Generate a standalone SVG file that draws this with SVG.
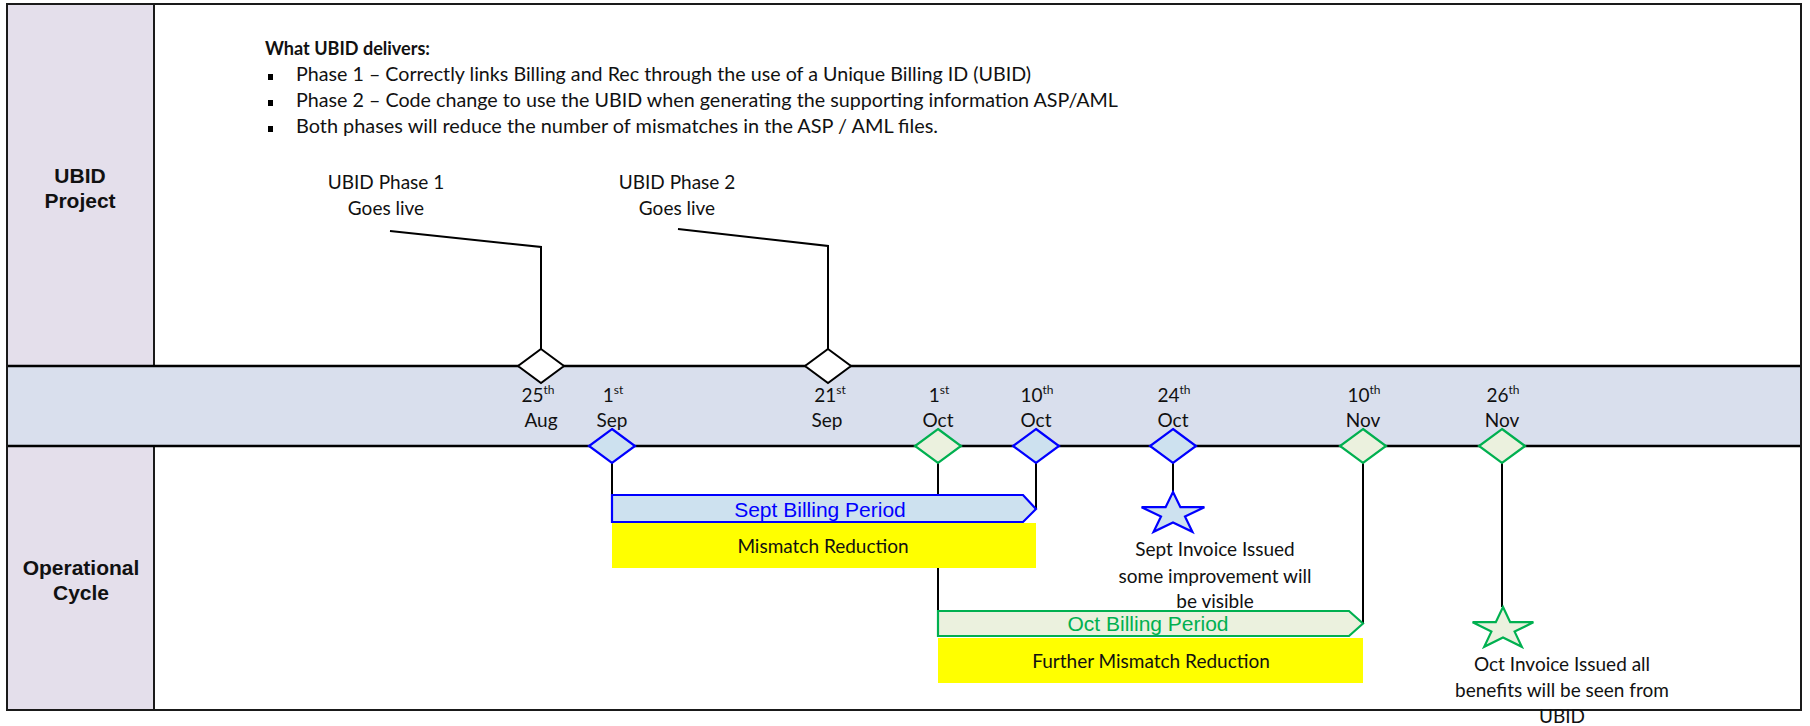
<svg xmlns="http://www.w3.org/2000/svg" width="1810" height="726" viewBox="0 0 1810 726">
<style>
.cal{font-family:Lato,"Open Sans","Liberation Sans",sans-serif;font-size:19px;fill:#111}
.hdr{font-family:"Liberation Sans",Arial,sans-serif;font-size:21px;font-weight:bold;fill:#111}
.ar{font-family:"Liberation Sans",Arial,sans-serif;font-size:21px}
.sup{font-size:12px}
.ln{stroke:#000;stroke-width:2;fill:none}
.dw{fill:#fff;stroke:#000;stroke-width:2}
.db{fill:#cde1ef;stroke:#0000ff;stroke-width:2.2}
.dg{fill:#ebf1de;stroke:#00b050;stroke-width:2.2}
.mid{text-anchor:middle}
</style>
<rect x="0" y="0" width="1810" height="726" fill="#fff"/>
<g id="frame">
<rect x="7" y="4" width="1794" height="706" fill="#fff" stroke="#1a1a1a" stroke-width="2"/>
<rect x="7" y="366" width="1794" height="80" fill="#d9dfed"/>
<rect x="7" y="4" width="147" height="362" fill="#e4dfeb" stroke="#1a1a1a" stroke-width="2"/>
<rect x="7" y="446" width="147" height="264" fill="#e4dfeb" stroke="#1a1a1a" stroke-width="2"/>
<line x1="7" y1="366" x2="1801" y2="366" stroke="#000" stroke-width="2.5"/>
<line x1="7" y1="446" x2="1801" y2="446" stroke="#000" stroke-width="2.5"/>
<rect x="7" y="4" width="1794" height="706" fill="none" stroke="#1a1a1a" stroke-width="2"/>
</g>
<g id="lane-ubid">
<text class="hdr mid" x="80" y="183">UBID</text>
<text class="hdr mid" x="80" y="208">Project</text>
</g>
<g id="lane-ops">
<text class="hdr mid" x="81" y="575">Operational</text>
<text class="hdr mid" x="81" y="600">Cycle</text>
</g>
<g id="delivers">
<text class="cal" x="265" y="55" font-weight="bold" textLength="165" lengthAdjust="spacingAndGlyphs">What UBID delivers:</text>
<rect x="268" y="74" width="5" height="6" fill="#000"/>
<rect x="268" y="100" width="5" height="6" fill="#000"/>
<rect x="268" y="126" width="5" height="6" fill="#000"/>
<text class="cal" x="296" y="81" textLength="735" lengthAdjust="spacingAndGlyphs">Phase 1 – Correctly links Billing and Rec through the use of a Unique Billing ID (UBID)</text>
<text class="cal" x="296" y="107" textLength="822" lengthAdjust="spacingAndGlyphs">Phase 2 – Code change to use the UBID when generating the supporting information ASP/AML</text>
<text class="cal" x="296" y="133" textLength="642" lengthAdjust="spacingAndGlyphs">Both phases will reduce the number of mismatches in the ASP / AML files.</text>
</g>
<g id="connectors">
<polyline class="ln" points="390,231 541,247 541,349"/>
<polyline class="ln" points="678,229 828,246 828,349"/>
<line class="ln" x1="612" y1="463" x2="612" y2="495"/>
<line class="ln" x1="938" y1="463" x2="938" y2="611"/>
<line class="ln" x1="1036" y1="463" x2="1036" y2="509"/>
<line class="ln" x1="1173" y1="463" x2="1173" y2="492"/>
<line class="ln" x1="1363" y1="463" x2="1363" y2="623"/>
<line class="ln" x1="1502" y1="463" x2="1502" y2="607"/>
</g>
<g id="phase1">
<polygon class="dw" points="541,349 564,366 541,383 518,366"/>
<text class="cal mid" x="386" y="189">UBID Phase 1</text>
<text class="cal mid" x="386" y="215">Goes live</text>
</g>
<g id="phase2">
<polygon class="dw" points="828,349 851,366 828,383 805,366"/>
<text class="cal mid" x="677" y="189">UBID Phase 2</text>
<text class="cal mid" x="677" y="215">Goes live</text>
</g>
<g id="d-25aug"><text class="cal mid" x="538" y="402">25<tspan class="sup" dy="-8">th</tspan></text><text class="cal mid" x="541" y="427">Aug</text></g>
<g id="d-1sep"><text class="cal mid" x="613" y="402">1<tspan class="sup" dy="-8">st</tspan></text><text class="cal mid" x="612" y="427">Sep</text>
<polygon class="db" points="612,429 635,446 612,463 589,446"/></g>
<g id="d-21sep"><text class="cal mid" x="830" y="402">21<tspan class="sup" dy="-8">st</tspan></text><text class="cal mid" x="827" y="427">Sep</text></g>
<g id="d-1oct"><text class="cal mid" x="939" y="402">1<tspan class="sup" dy="-8">st</tspan></text><text class="cal mid" x="938" y="427">Oct</text>
<polygon class="dg" points="938,429 961,446 938,463 915,446"/></g>
<g id="d-10oct"><text class="cal mid" x="1037" y="402">10<tspan class="sup" dy="-8">th</tspan></text><text class="cal mid" x="1036" y="427">Oct</text>
<polygon class="db" points="1036,429 1059,446 1036,463 1013,446"/></g>
<g id="d-24oct"><text class="cal mid" x="1174" y="402">24<tspan class="sup" dy="-8">th</tspan></text><text class="cal mid" x="1173" y="427">Oct</text>
<polygon class="db" points="1173,429 1196,446 1173,463 1150,446"/></g>
<g id="d-10nov"><text class="cal mid" x="1364" y="402">10<tspan class="sup" dy="-8">th</tspan></text><text class="cal mid" x="1363" y="427">Nov</text>
<polygon class="dg" points="1363,429 1386,446 1363,463 1340,446"/></g>
<g id="d-26nov"><text class="cal mid" x="1503" y="402">26<tspan class="sup" dy="-8">th</tspan></text><text class="cal mid" x="1502" y="427">Nov</text>
<polygon class="dg" points="1502,429 1525,446 1502,463 1479,446"/></g>
<g id="sept-billing">
<polygon points="612,495 1023,495 1036,509 1023,522 612,522" fill="#cde1ef" stroke="#0000ff" stroke-width="2.2"/>
<text class="ar mid" x="820" y="517" fill="#0000ff">Sept Billing Period</text>
</g>
<g id="mismatch">
<rect x="612" y="523" width="424" height="45" fill="#ffff00"/>
<text class="cal mid" x="823" y="553">Mismatch Reduction</text>
</g>
<g id="oct-billing">
<polygon points="938,611 1349,611 1363,623.5 1349,636 938,636" fill="#ebf1de" stroke="#00b050" stroke-width="2.2"/>
<text class="ar mid" x="1148" y="631" fill="#00b050">Oct Billing Period</text>
</g>
<g id="further">
<rect x="938" y="638" width="425" height="45" fill="#ffff00"/>
<text class="cal mid" x="1151" y="668">Further Mismatch Reduction</text>
</g>
<g id="sept-invoice">
<polygon points="1173,492 1180.4,507.2 1204.4,507.2 1185,516.6 1192.4,531.8 1173,522.4 1153.6,531.8 1161,516.6 1141.6,507.2 1165.6,507.2" fill="#cde1ef" stroke="#0000ff" stroke-width="2.2"/>
<text class="cal mid" x="1215" y="556">Sept Invoice Issued</text>
<text class="cal mid" x="1215" y="583">some improvement will</text>
<text class="cal mid" x="1215" y="608">be visible</text>
</g>
<g id="oct-invoice">
<polygon points="1503,607 1510.2,622.2 1533.4,622.2 1514.6,631.6 1521.8,646.8 1503,637.4 1484.2,646.8 1491.4,631.6 1472.6,622.2 1495.8,622.2" fill="#ebf1de" stroke="#00b050" stroke-width="2.2"/>
<text class="cal mid" x="1562" y="671">Oct Invoice Issued all</text>
<text class="cal mid" x="1562" y="697">benefits will be seen from</text>
<text class="cal mid" x="1562" y="723">UBID</text>
</g>
</svg>
